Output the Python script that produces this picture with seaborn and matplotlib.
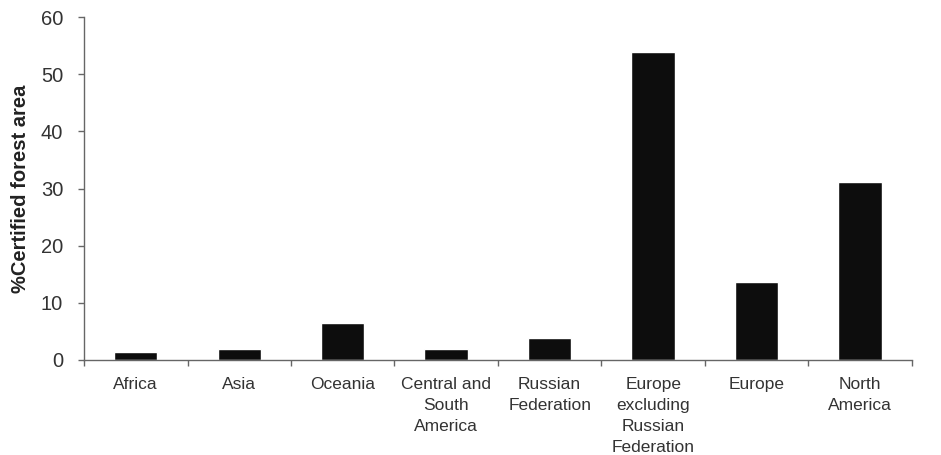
import matplotlib
matplotlib.use('Agg')
import matplotlib.pyplot as plt
from matplotlib.ticker import FixedLocator
import seaborn as sns
import pandas as pd

regions = ['Africa', 'Asia', 'Oceania', 'Central and\nSouth\nAmerica',
           'Russian\nFederation', 'Europe\nexcluding\nRussian\nFederation',
           'Europe', 'North\nAmerica']
certified = [1.4, 1.9, 6.5, 1.9, 3.8, 53.8, 13.6, 31.2]

sns.set_theme(style='white')
plt.rcParams['font.family'] = ['Liberation Sans', 'DejaVu Sans']

df = pd.DataFrame({'region': regions, 'pct': certified})

fig = plt.figure(figsize=(9.41, 4.55), dpi=100)
ax = fig.add_axes([0.0893, 0.2088, 0.8797, 0.7538])

sns.barplot(data=df, x='region', y='pct', color='#0d0d0d', saturation=1,
            width=0.42, ax=ax)

ax.set_xlim(-0.5, len(regions) - 0.5)
ax.set_ylim(0, 60)
ax.set_yticks(range(0, 61, 10))
ax.set_xlabel('')
ax.set_ylabel('%Certified forest area', fontsize=14.5, fontweight='bold',
              color='#222222', labelpad=8)

# tick marks sit between categories, labels centered under bars
ax.xaxis.set_minor_locator(FixedLocator([i - 0.5 for i in range(len(regions) + 1)]))
ax.tick_params(axis='x', which='major', length=0, pad=12, labelsize=12.5,
               labelcolor='#333333')
ax.tick_params(axis='x', which='minor', length=4, width=1, color='#666666',
               bottom=True, direction='out')
ax.tick_params(axis='y', length=4, width=1, color='#666666', left=True,
               direction='out', labelsize=14.5, labelcolor='#333333', pad=11)
for lbl in ax.get_xticklabels():
    lbl.set_linespacing(1.5)
    lbl.set_verticalalignment('top')

sns.despine(ax=ax)
for side in ['left', 'bottom']:
    ax.spines[side].set_color('#666666')
    ax.spines[side].set_linewidth(1)

fig.savefig('out.png', dpi=100)
